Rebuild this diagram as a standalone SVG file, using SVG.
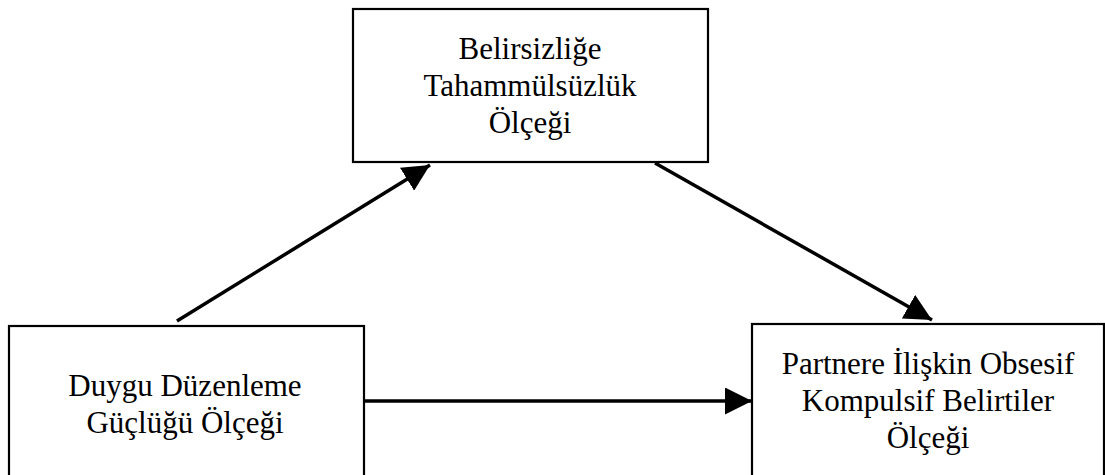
<svg xmlns="http://www.w3.org/2000/svg" width="1105" height="475" viewBox="0 0 1105 475">
<style>
.box{fill:#fff;stroke:#000;stroke-width:2.2}
.lbl{font-family:"Liberation Serif","Times New Roman",serif;font-size:31px;fill:#000;text-anchor:middle}
.edge{stroke:#000;stroke-width:3.5;fill:none;marker-end:url(#ah)}
</style>
<defs>
<marker id="ah" markerUnits="userSpaceOnUse" markerWidth="27" markerHeight="27" viewBox="0 0 26 26" refX="26" refY="13" orient="auto">
<path d="M0,0 L26,13 L0,26 z" fill="#000"/>
</marker>
</defs>
<rect width="1105" height="475" fill="#fff"/>
<g id="node-belirsizlik">
<rect class="box" x="353" y="9" width="355" height="153"/>
<text class="lbl" x="530" y="59">Belirsizliğe</text>
<text class="lbl" x="530" y="96">Tahammülsüzlük</text>
<text class="lbl" x="530" y="133">Ölçeği</text>
</g>
<g id="node-duygu">
<rect class="box" x="9" y="326" width="355" height="160"/>
<text class="lbl" x="185" y="396">Duygu Düzenleme</text>
<text class="lbl" x="185" y="433">Güçlüğü Ölçeği</text>
</g>
<g id="node-partner">
<rect class="box" x="752" y="324" width="352" height="160"/>
<text class="lbl" x="928" y="374">Partnere İlişkin Obsesif</text>
<text class="lbl" x="928" y="411">Kompulsif Belirtiler</text>
<text class="lbl" x="928" y="448">Ölçeği</text>
</g>
<g id="connectors">
<line class="edge" x1="177" y1="321" x2="430" y2="165"/>
<line class="edge" x1="655" y1="163" x2="932" y2="320"/>
<line class="edge" x1="364" y1="401" x2="752" y2="401"/>
</g>
</svg>
